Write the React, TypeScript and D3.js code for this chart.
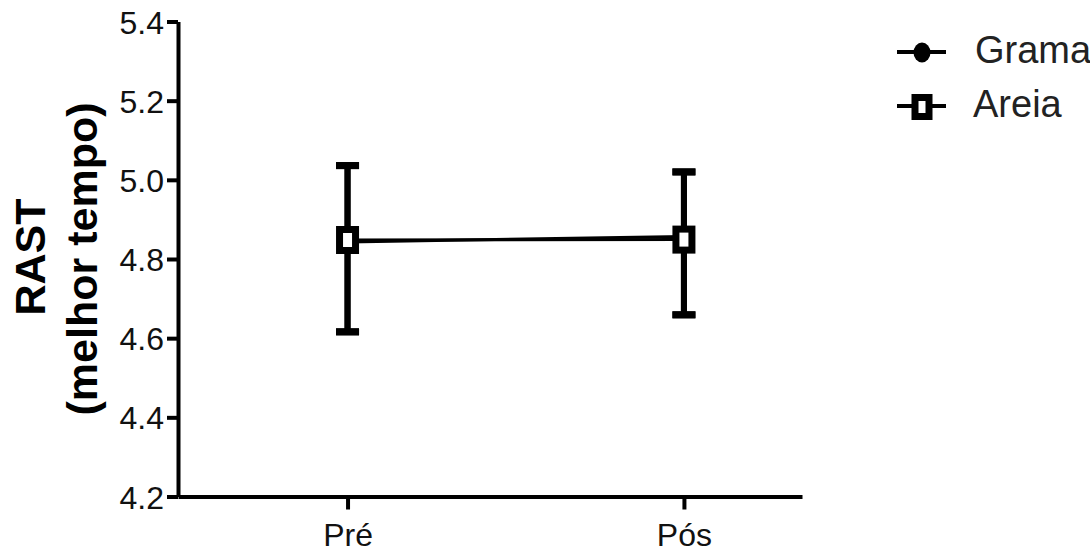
import { useRef, useEffect } from 'react';
import * as d3 from 'd3';

const categories = ['Pré', 'Pós'];
const yTicks = [4.2, 4.4, 4.6, 4.8, 5.0, 5.2, 5.4];

const gramaMean = [4.843, 4.857];
const gramaLow = [4.616, 4.659];
const gramaHigh = [5.036, 5.02];

const areiaMean = [4.848, 4.849];
const areiaLow = [4.616, 4.659];
const areiaHigh = [5.036, 5.02];

const FONT = '"Liberation Sans", Arial, sans-serif';

function App() {
    const ref = useRef<SVGSVGElement>(null);

    useEffect(() => {
        document.body.style.margin = '0';
        const svg = d3.select(ref.current);
        svg.selectAll('*').remove();

        const x = d3.scaleLinear().domain([-0.504, 1.351]).range([178, 802]);
        const y = d3.scaleLinear().domain([4.2, 5.4]).range([496.5, 21.5]);

        // y axis
        const yAxis = svg.append('g')
            .attr('transform', 'translate(178,0)')
            .call(d3.axisLeft(y).tickValues(yTicks).tickFormat(d3.format('.1f')).tickSize(11).tickSizeOuter(0));
        yAxis.select('.domain').attr('stroke', '#000').attr('stroke-width', 4);
        yAxis.selectAll('.tick line').attr('stroke', '#000').attr('stroke-width', 4);
        yAxis.selectAll('.tick text')
            .attr('x', -14)
            .attr('dy', '0.36em')
            .style('font-family', FONT)
            .style('font-size', '32px')
            .attr('fill', '#111');

        // x axis
        const xAxis = svg.append('g')
            .attr('transform', 'translate(0,496.5)')
            .call(d3.axisBottom(x).tickValues([0, 1]).tickFormat((d) => categories[d as number]).tickSize(13).tickSizeOuter(0));
        xAxis.select('.domain').attr('stroke', '#000').attr('stroke-width', 4);
        xAxis.selectAll('.tick line').attr('stroke', '#000').attr('stroke-width', 4);
        xAxis.selectAll('.tick text')
            .attr('y', 49)
            .attr('dy', 0)
            .style('font-family', FONT)
            .style('font-size', '32px')
            .attr('fill', '#111');

        // axis title
        svg.append('text')
            .attr('transform', 'translate(45,257) rotate(-90)')
            .attr('text-anchor', 'middle')
            .style('font-family', FONT)
            .style('font-size', '43px')
            .style('font-weight', 'bold')
            .text('RAST');
        svg.append('text')
            .attr('transform', 'translate(97,259) rotate(-90)')
            .attr('text-anchor', 'middle')
            .style('font-family', FONT)
            .style('font-size', '43px')
            .style('font-weight', 'bold')
            .text('(melhor tempo)');

        const line = d3.line<number>()
            .x((d, i) => x(i))
            .y((d) => y(d));

        const drawErr = (low: number[], high: number[]) => {
            const g = svg.append('g').attr('stroke', '#000').attr('stroke-width', 6);
            categories.forEach((c, i) => {
                g.append('line').attr('x1', x(i)).attr('x2', x(i)).attr('y1', y(low[i])).attr('y2', y(high[i]));
                [low[i], high[i]].forEach((v) => {
                    g.append('line').attr('x1', x(i) - 11.5).attr('x2', x(i) + 11.5)
                        .attr('y1', y(v)).attr('y2', y(v)).attr('stroke-width', 7);
                });
            });
        };

        // Grama
        svg.append('path').datum(gramaMean).attr('d', line)
            .attr('fill', 'none').attr('stroke', '#000').attr('stroke-width', 3);
        drawErr(gramaLow, gramaHigh);
        svg.selectAll('.grama-pt').data(gramaMean).enter().append('ellipse')
            .attr('cx', (d, i) => x(i)).attr('cy', (d) => y(d))
            .attr('rx', 8.5).attr('ry', 10).attr('fill', '#000');

        // Areia
        svg.append('path').datum(areiaMean).attr('d', line)
            .attr('fill', 'none').attr('stroke', '#000').attr('stroke-width', 3);
        drawErr(areiaLow, areiaHigh);
        svg.selectAll('.areia-pt').data(areiaMean).enter().append('rect')
            .attr('x', (d, i) => x(i) - 8).attr('y', (d) => y(d) - 10.5)
            .attr('width', 16).attr('height', 21)
            .attr('fill', '#fff').attr('stroke', '#000').attr('stroke-width', 7);

        // legend
        const legend = svg.append('g');
        legend.append('line').attr('x1', 897).attr('x2', 946).attr('y1', 52).attr('y2', 52)
            .attr('stroke', '#000').attr('stroke-width', 4);
        legend.append('ellipse').attr('cx', 922).attr('cy', 52.5).attr('rx', 8.5).attr('ry', 10).attr('fill', '#000');
        legend.append('text').attr('x', 975).attr('y', 63)
            .style('font-family', FONT).style('font-size', '38px').attr('fill', '#222').text('Grama');

        legend.append('line').attr('x1', 897).attr('x2', 946).attr('y1', 106).attr('y2', 106)
            .attr('stroke', '#000').attr('stroke-width', 4);
        legend.append('rect').attr('x', 915).attr('y', 97.5).attr('width', 14).attr('height', 19)
            .attr('fill', '#fff').attr('stroke', '#000').attr('stroke-width', 7);
        legend.append('text').attr('x', 973).attr('y', 117)
            .style('font-family', FONT).style('font-size', '38px').attr('fill', '#222').text('Areia');
    }, []);

    return <svg ref={ref} width={1090} height={551} style={{ display: 'block', background: '#fff' }} />;
}

export default App;
